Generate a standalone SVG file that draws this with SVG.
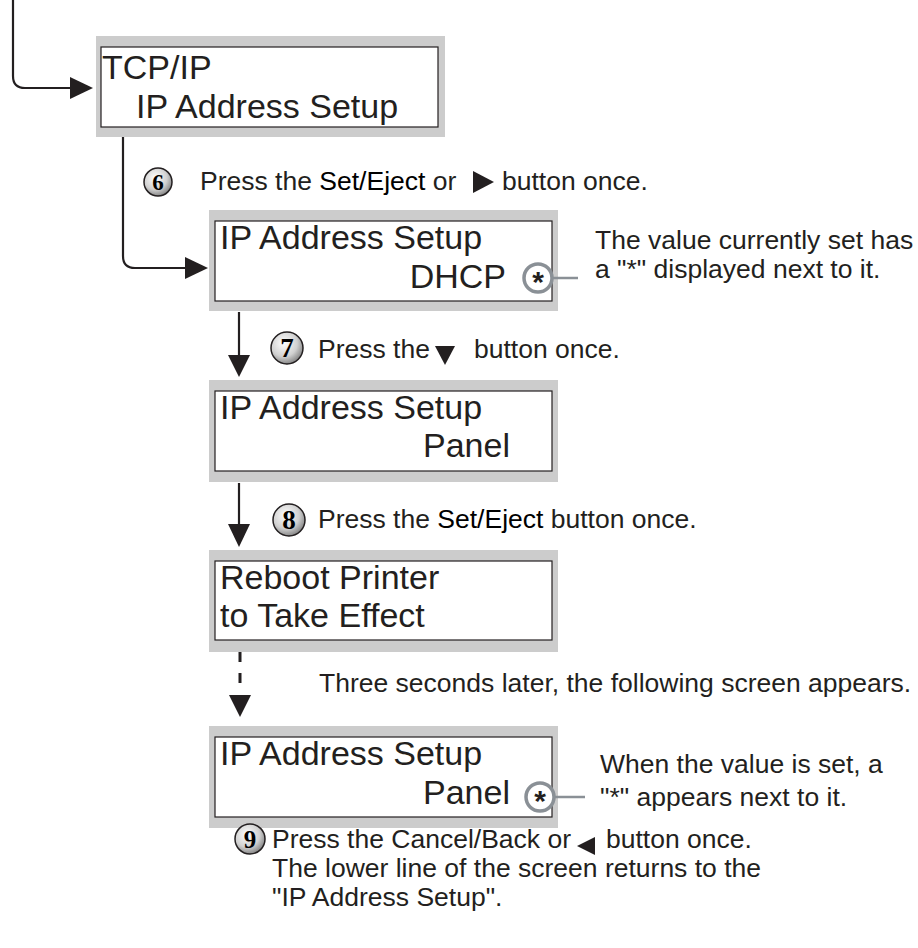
<svg xmlns="http://www.w3.org/2000/svg" width="918" height="948" viewBox="0 0 918 948">
<style>
.frame{fill:#cccccc}
.screen{fill:#ffffff;stroke:#231f20;stroke-width:1.2}
.lcd{font-family:"Liberation Sans",Arial,sans-serif;font-size:34px;fill:#231f20}
.txt{font-family:"Liberation Sans",Arial,sans-serif;font-size:26.5px;fill:#231f20}
.num{font-family:"Liberation Serif","DejaVu Serif",serif;font-weight:bold;fill:#000;text-anchor:middle}
.badge{fill:url(#ball);stroke:#231f20;stroke-width:1.5}
.line{fill:none;stroke:#231f20;stroke-width:2.2}
.dash{fill:none;stroke:#231f20;stroke-width:3;stroke-dasharray:10 11}
.head{fill:#231f20}
.mark{fill:#ffffff;stroke:#8a9096;stroke-width:3.5}
.lead{stroke:#8a9096;stroke-width:2.5}
.star{font-family:"Liberation Sans",Arial,sans-serif;font-size:30px;font-weight:bold;fill:#231f20;text-anchor:middle}
</style>
<defs>
<radialGradient id="ball" cx="0.4" cy="0.35" r="0.7">
<stop offset="0" stop-color="#ffffff"/>
<stop offset="0.6" stop-color="#d0d0d0"/>
<stop offset="1" stop-color="#7a7a7a"/>
</radialGradient>
</defs>

<g id="connectors">
<path class="line" d="M13,0 V76 Q13,88 25,88 H72"/>
<polygon class="head" points="70,77 93,88 70,99"/>
<path class="line" d="M123,137 V256 Q123,268 135,268 H187"/>
<polygon class="head" points="185,257 208,268 185,279"/>
<line class="line" x1="239" y1="312" x2="239" y2="357"/>
<polygon class="head" points="228,355 250,355 239,377"/>
<line class="line" x1="239" y1="483" x2="239" y2="526"/>
<polygon class="head" points="228,524 250,524 239,547"/>
<line class="dash" x1="240" y1="652" x2="240" y2="694"/>
<polygon class="head" points="229,695 251,695 240,717"/>
</g>

<g id="screen1">
<rect class="frame" x="96" y="36" width="349" height="101"/>
<rect class="screen" x="101" y="47" width="337" height="80"/>
<text class="lcd" x="102" y="79">TCP/IP</text>
<text class="lcd" x="136" y="118">IP Address Setup</text>
</g>

<g id="step6">
<circle class="badge" cx="158" cy="182" r="14"/>
<text class="num" x="158" y="190" font-size="23">6</text>
<text class="txt" x="200" y="190">Press the <tspan fill="#000">Set/Eject</tspan> or</text>
<polygon class="head" points="473,171 494,182 473,193"/>
<text class="txt" x="502" y="190">button once.</text>
</g>

<g id="screen2">
<rect class="frame" x="209" y="210" width="349" height="101"/>
<rect class="screen" x="215" y="221" width="337" height="80"/>
<text class="lcd" x="220" y="249">IP Address Setup</text>
<text class="lcd" x="506" y="288" text-anchor="end">DHCP</text>
<line class="lead" x1="553" y1="278" x2="578" y2="278"/>
<circle class="mark" cx="538" cy="278" r="14"/>
<text class="star" x="538" y="292">*</text>
</g>
<g id="note1">
<text class="txt" x="595" y="249">The value currently set has</text>
<text class="txt" x="595" y="278">a "*" displayed next to it.</text>
</g>

<g id="step7">
<circle class="badge" cx="287" cy="348" r="16"/>
<text class="num" x="287" y="357" font-size="27">7</text>
<text class="txt" x="318" y="358">Press the</text>
<polygon class="head" points="435,346 455,346 445,365"/>
<text class="txt" x="474" y="358">button once.</text>
</g>

<g id="screen3">
<rect class="frame" x="209" y="380" width="349" height="102"/>
<rect class="screen" x="215" y="391" width="337" height="80"/>
<text class="lcd" x="220" y="419">IP Address Setup</text>
<text class="lcd" x="510" y="457" text-anchor="end">Panel</text>
</g>

<g id="step8">
<circle class="badge" cx="289" cy="520" r="16"/>
<text class="num" x="289" y="529" font-size="27">8</text>
<text class="txt" x="318" y="528">Press the <tspan fill="#000">Set/Eject</tspan> button once.</text>
</g>

<g id="screen4">
<rect class="frame" x="209" y="550" width="349" height="102"/>
<rect class="screen" x="215" y="561" width="337" height="79"/>
<text class="lcd" x="220" y="589">Reboot Printer</text>
<text class="lcd" x="220" y="627">to Take Effect</text>
</g>

<g id="wait">
<text class="txt" x="319" y="692">Three seconds later, the following screen appears.</text>
</g>

<g id="screen5">
<rect class="frame" x="209" y="726" width="349" height="102"/>
<rect class="screen" x="215" y="737" width="337" height="80"/>
<text class="lcd" x="220" y="765">IP Address Setup</text>
<text class="lcd" x="510" y="804" text-anchor="end">Panel</text>
<line class="lead" x1="553" y1="797" x2="585" y2="797"/>
<circle class="mark" cx="540" cy="797" r="14"/>
<text class="star" x="540" y="811">*</text>
</g>
<g id="note2">
<text class="txt" x="600" y="773">When the value is set, a</text>
<text class="txt" x="600" y="806">"*" appears next to it.</text>
</g>

<g id="step9">
<circle class="badge" cx="250" cy="839" r="15"/>
<text class="num" x="250" y="848" font-size="25">9</text>
<text class="txt" x="272" y="848">Press the Cancel/Back or</text>
<polygon class="head" points="595,837 595,855 577,846"/>
<text class="txt" x="606" y="848">button once.</text>
<text class="txt" x="272" y="877">The lower line of the screen returns to the</text>
<text class="txt" x="272" y="906">"IP Address Setup".</text>
</g>
</svg>
